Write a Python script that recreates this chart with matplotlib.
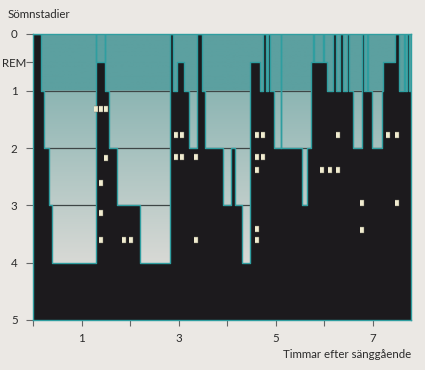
import matplotlib.pyplot as plt
import numpy as np
from matplotlib.colors import to_rgb

# sömnstadium per starttid (timmar), 0 = vaken, 0.5 = REM, 1-4 = djupsömn
onset_h = [0.0, 0.171, 0.233, 0.336, 0.397,
           1.303, 1.307, 1.489, 1.493, 1.571, 1.736, 2.209,
           2.826, 2.888, 2.970, 3.114, 3.217, 3.382, 3.479, 3.547, 3.918, 4.077, 4.165, 4.303,
           4.474, 4.680, 4.748, 4.797, 4.851, 4.886, 4.968, 5.108, 5.112, 5.538, 5.654,
           5.730, 5.777, 5.781, 5.983, 5.987, 6.053, 6.189, 6.238, 6.337, 6.385, 6.461, 6.506,
           6.595, 6.790, 6.827, 6.877, 6.910, 6.996, 7.192, 7.222, 7.470, 7.552, 7.655, 7.659,
           7.713, 7.744]
stage = [0, 1, 2, 3, 4,
         0, 0.5, 0, 1, 2, 3, 4,
         0, 1, 0.5, 1, 2, 0, 1, 2, 3, 2, 3, 4,
         0.5, 1, 0, 1, 0, 1, 2, 0, 2, 3, 2,
         0.5, 0, 0.5, 0, 0.5, 1, 0, 1, 0, 1, 0, 1,
         2, 0, 1, 0, 1, 2, 1, 0.5, 0, 1, 0, 1,
         0, 1]
end_h = 7.79

# små "fönster"-prickar
dot_x = [1.30, 1.40, 1.50, 1.50, 1.40, 1.40, 1.40, 1.88, 2.02,
         2.95, 3.07, 2.95, 3.07, 3.35, 3.35,
         4.62, 4.74, 4.62, 4.74, 4.62, 4.62, 4.62,
         5.95, 6.13, 6.29, 6.29, 6.79, 6.79, 7.31, 7.50, 7.50]
dot_y = [1.31, 1.31, 1.31, 2.17, 2.61, 3.13, 3.61, 3.61, 3.61,
         1.77, 1.77, 2.16, 2.16, 2.16, 3.61,
         1.77, 1.77, 2.16, 2.16, 2.38, 3.42, 3.61,
         2.38, 2.38, 2.38, 1.77, 2.96, 3.43, 1.77, 1.77, 2.96]

ytick_pos = [0, 0.5, 1, 2, 3, 4, 5]
ytick_lab = ['0', 'REM', '1', '2', '3', '4', '5']
xtick_pos = list(range(8))
xtick_lab = ['', '1', '', '3', '', '5', '', '7']

bg = '#ebe8e4'
teal = '#5ca0a0'
edge = '#2f9ea0'
black = '#1c1a1d'
txt = '#2a2a2a'
fs = 8.3

plt.rcParams['font.family'] = ['Lato', 'DejaVu Sans']

fig = plt.figure(figsize=(4.25, 3.7), dpi=100, facecolor=bg)
ax = fig.add_axes([33 / 425, 1 - 320 / 370, 378 / 425, 286.5 / 370])
ax.set_xlim(0, end_h)
ax.set_ylim(5, 0)

# bakgrundsgradient: turkos ovanför 1, sedan ljusare ner mot 4
ys = np.linspace(0, 5, 500)
c1, c4 = np.array(to_rgb('#8cb5b3')), np.array(to_rgb('#d8d9d5'))
grad = np.zeros((len(ys), 1, 3))
for i, yv in enumerate(ys):
    if yv < 1:
        grad[i, 0] = to_rgb(teal)
    else:
        f = min((yv - 1) / 3, 1)
        grad[i, 0] = c1 + (c4 - c1) * f
ax.imshow(grad, extent=[0, end_h, 5, 0], aspect='auto', origin='upper', zorder=0)

for lev in [1, 2, 3]:
    ax.axhline(lev, color='#3e4646', lw=0.9, zorder=1)

x = np.append(onset_h, end_h)
y = np.append(stage, stage[-1])
ax.fill_between(x, y, 5, step='post', color=black, lw=0, zorder=2)
ax.step(x, y, where='post', color=edge, lw=1.0, zorder=3)

verts = [(-1.4, -2), (1.4, -2), (1.4, 2), (-1.4, 2)]
ax.scatter(dot_x, dot_y, marker=verts, s=14, color='#f1ecd0',
           edgecolors='#6b6a5c', lw=0.3, zorder=4)

for s in ax.spines.values():
    s.set_color(edge)
    s.set_linewidth(1.0)

ax.set_yticks(ytick_pos)
ax.set_yticklabels(ytick_lab)
ax.set_xticks(xtick_pos)
ax.set_xticklabels(xtick_lab)
ax.tick_params(axis='y', length=5, width=0.8, color='#666666', pad=8.5,
               labelsize=fs, labelcolor=txt)
ax.tick_params(axis='x', length=4.5, width=0.8, color='#666666', pad=5,
               labelsize=fs, labelcolor=txt)
for lab in ax.get_yticklabels():
    lab.set_horizontalalignment('center')

fig.text(8 / 425, 1 - 14 / 370, 'Sömnstadier', ha='left', va='center',
         fontsize=fs, color=txt)
fig.text(411 / 425, 1 - 355 / 370, 'Timmar efter sänggående', ha='right',
         va='center', fontsize=fs, color=txt)

fig.savefig('out.png', dpi=100, facecolor=bg)
